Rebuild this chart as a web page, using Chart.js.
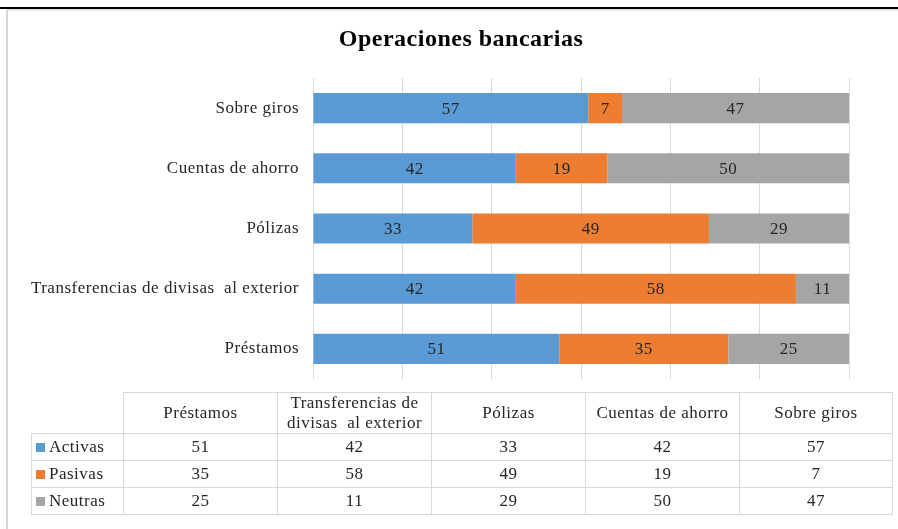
<!DOCTYPE html>
<html lang="es">
<head>
<meta charset="utf-8">
<title>Operaciones bancarias</title>
<script src="https://cdn.jsdelivr.net/npm/chart.js@4/dist/chart.umd.min.js"></script>
<style>
    body { margin: 0; background: #ffffff; }
    #wrap { position: relative; width: 898px; height: 529px; overflow: hidden; }
    .rule { position: absolute; left: 0; top: 7px; width: 898px; height: 2px; background: #000; }
    .frame { position: absolute; left: 6px; top: 9px; width: 892px; height: 520px;
             border-left: 2px solid #d6d6d6; border-top: 2px solid #e6e6e6; box-sizing: border-box; }
    #chart { position: absolute; left: 0; top: 0; }
    #dataTable { position: absolute; left: 31px; top: 392px; border-collapse: collapse; table-layout: fixed; }
    #dataTable td, #dataTable th { font-family: "Liberation Serif", "Times New Roman", serif;
                 font-size: 17px; letter-spacing: 0.5px; color: #262626;
                 border: 1px solid #d9d9d9; text-align: center; font-weight: normal;
                 padding: 0; white-space: pre; }
    #dataTable thead tr { height: 40px; }
    #dataTable tbody tr { height: 27px; }
    #dataTable th.corner { border: none; }
    #dataTable td.key { text-align: left; padding-left: 4px; }
    .swatch { display: inline-block; width: 9px; height: 9px; margin-right: 4px; vertical-align: 0px; }
</style>
</head>
<body>
<div id="wrap">
    <div class="rule"></div>
    <div class="frame"></div>
    <canvas id="chart" width="898" height="529"></canvas>
    <table id="dataTable">
        <colgroup id="cols"></colgroup>
        <thead><tr id="headRow"></tr></thead>
        <tbody id="bodyRows"></tbody>
    </table>
</div>
<script>
const chartTitle = 'Operaciones bancarias';
const categories = ['Préstamos', 'Transferencias de divisas  al exterior', 'Pólizas', 'Cuentas de ahorro', 'Sobre giros'];
const tableHeaders = ['Préstamos', 'Transferencias de\ndivisas  al exterior', 'Pólizas', 'Cuentas de ahorro', 'Sobre giros'];
const activas = [51, 42, 33, 42, 57];
const pasivas = [35, 58, 49, 19, 7];
const neutras = [25, 11, 29, 50, 47];

const seriesNames = ['Activas', 'Pasivas', 'Neutras'];
const seriesColors = ['#5b9bd5', '#ed7d31', '#a5a5a5'];
const seriesData = [activas, pasivas, neutras];

const serif = '"Liberation Serif", "Times New Roman", serif';

// slightly wider lettering for all canvas text
const spacing = {
    id: 'spacing',
    beforeDraw(chart) { chart.ctx.letterSpacing = '0.5px'; }
};

// title sits a bit right of the canvas centre, above the bars
const heading = {
    id: 'heading',
    afterDraw(chart) {
        const ctx = chart.ctx;
        ctx.save();
        ctx.font = 'bold 24px ' + serif;
        ctx.fillStyle = '#000000';
        ctx.textAlign = 'center';
        ctx.textBaseline = 'middle';
        ctx.fillText(chartTitle, 461, 40);
        ctx.restore();
    }
};

// writes the value in the middle of every bar segment
const barValues = {
    id: 'barValues',
    afterDatasetsDraw(chart) {
        const ctx = chart.ctx;
        ctx.save();
        ctx.font = '17px ' + serif;
        ctx.fillStyle = '#262626';
        ctx.textAlign = 'center';
        ctx.textBaseline = 'middle';
        chart.data.datasets.forEach((ds, i) => {
            chart.getDatasetMeta(i).data.forEach((bar, j) => {
                ctx.fillText(ds.data[j], (bar.x + bar.base) / 2, bar.y + 1);
            });
        });
        ctx.restore();
    }
};

new Chart(document.getElementById('chart'), {
    type: 'bar',
    data: {
        labels: categories,
        datasets: seriesNames.map((name, i) => ({
            label: name,
            data: seriesData[i],
            backgroundColor: seriesColors[i],
            borderWidth: 0,
            categoryPercentage: 1,
            barPercentage: 0.5
        }))
    },
    options: {
        indexAxis: 'y',
        responsive: false,
        animation: false,
        devicePixelRatio: 1,
        layout: { padding: { left: 10, right: 49, top: 78, bottom: 150 } },
        plugins: {
            legend: { display: false },
            tooltip: { enabled: false },
            title: { display: false }
        },
        scales: {
            x: {
                stacked: true,
                min: 0,
                max: 111,
                ticks: { display: false, stepSize: 18.5 },
                grid: { color: '#d9d9d9', drawTicks: false },
                border: { display: false }
            },
            y: {
                stacked: true,
                reverse: true,
                grid: { display: false, drawTicks: false },
                border: { display: false },
                ticks: { color: '#262626', font: { family: serif, size: 17 }, padding: 14 },
                afterFit(scale) { scale.width = 303; }
            }
        }
    },
    plugins: [spacing, heading, barValues]
});

// data table under the chart
const cols = document.getElementById('cols');
[92, 154, 154, 154, 154, 153].forEach(w => {
    const c = document.createElement('col');
    c.style.width = w + 'px';
    cols.appendChild(c);
});

const headRow = document.getElementById('headRow');
headRow.innerHTML = '<th class="corner"></th>';
tableHeaders.forEach(h => {
    const th = document.createElement('th');
    th.textContent = h;
    th.style.lineHeight = '20px';
    headRow.appendChild(th);
});

const bodyRows = document.getElementById('bodyRows');
seriesNames.forEach((name, i) => {
    const tr = document.createElement('tr');
    let html = `<td class="key"><span class="swatch" style="background:${seriesColors[i]}"></span>${name}</td>`;
    seriesData[i].forEach(v => { html += `<td>${v}</td>`; });
    tr.innerHTML = html;
    bodyRows.appendChild(tr);
});
</script>
</body>
</html>
